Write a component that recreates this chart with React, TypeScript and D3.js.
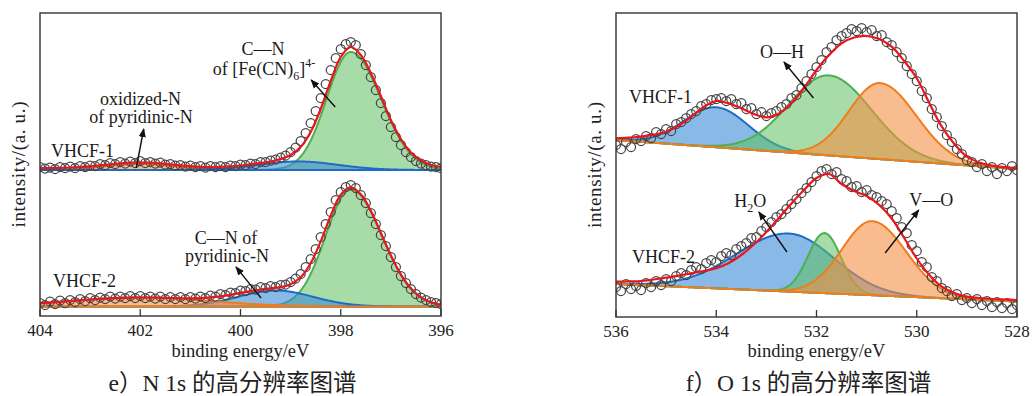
import React from "react";
import * as d3 from "d3";

// ================= N 1s (panel e) =================
const nAxisDomain = [404, 396];
const nTickValues = [404, 402, 400, 398, 396];
const nPointStart = 404;
const nPointStep = 0.1;
const nFitStep = 0.2;

// VHCF-1 measured points (404.0 -> 396.0 eV, 0.1 eV step)
const nVhcf1Points = [
  149, 147.5, 148.5, 147, 149, 148, 149.5, 148, 150, 149,
  150.5, 150, 152, 151, 153, 152, 154, 152.5, 154.5, 153,
  155, 153, 154, 152.5, 153.5, 151.5, 152, 150.5, 151, 149.5,
  150.5, 149, 150, 148.5, 150, 149, 150, 149, 150.5, 150,
  151.5, 151, 152.5, 152, 154, 154, 155.5, 156.5, 158.5, 160.5,
  164, 168.5, 175, 183, 193, 205, 218, 232, 246, 258,
  267, 272, 274, 271, 262, 251, 239, 226, 213, 200,
  189, 179, 171, 164, 159, 155, 152.5, 151, 149.5, 149,
  148,
];
// VHCF-1 fitted envelope (404.0 -> 396.0 eV, 0.2 eV step)
const nVhcf1Fit = [
  148, 148, 148.2, 148.5, 149, 149.7, 150.6, 151.7, 152.6, 153.3,
  153.5, 153.3, 152.6, 151.7, 150.6, 149.8, 149.2, 149, 149.1, 149.7,
  150.5, 151.8, 153, 154.3, 157, 161, 169, 184, 207, 235,
  259, 269, 261, 243, 220, 196, 177, 163.5, 155.5, 151,
  149,
];
const nVhcf1Background = [146, 146];
const nVhcf1Peaks = [
  { name: "Fe(CN)6 C—N", center: 397.8, height: 118, sigmaHigh: 0.48, sigmaLow: 0.6 },
  { name: "oxidized-N", center: 402.0, height: 6, sigmaHigh: 0.7, sigmaLow: 0.7 },
  { name: "pyridinic C—N", center: 398.85, height: 8.5, sigmaHigh: 0.8, sigmaLow: 0.8 },
];

// VHCF-2 measured points
const nVhcf2Points = [
  13, 11, 14.5, 12, 15.5, 13, 16, 14, 17, 15,
  18, 16, 18.5, 17, 19.5, 17.5, 19.5, 18, 20, 18,
  20, 18, 19.5, 17.5, 19.5, 17, 19, 17, 19, 17,
  19, 17.5, 19.5, 18, 20.5, 19.5, 22, 21, 23.5, 23,
  25.5, 25, 27, 26.5, 29, 28, 30, 29, 31, 31.5,
  34, 37.5, 42, 49, 57, 67, 79, 92, 104, 116,
  124, 129, 131, 128, 121, 113, 103, 92, 81, 70,
  59, 49, 40, 33, 27, 22, 18.5, 16, 14, 13,
  12,
];
const nVhcf2Fit = [
  12.8, 13.4, 14.2, 15, 15.7, 16.5, 17.1, 17.7, 18.1, 18.4,
  18.5, 18.5, 18.3, 18, 17.8, 17.7, 17.9, 18.6, 19.7, 21.2,
  23.1, 24.9, 26.5, 27.7, 28.9, 31.8, 38.7, 52.8, 74.6, 100.2,
  121.2, 128.7, 121.7, 105.2, 83, 60.6, 41.4, 27.5, 18.6, 13.7,
  11.2,
];
const nVhcf2Background = [9.5, 9.5];
const nVhcf2Peaks = [
  { name: "Fe(CN)6 C—N", center: 397.8, height: 117, sigmaHigh: 0.5, sigmaLow: 0.62 },
  { name: "pyridinic C—N", center: 399.3, height: 16, sigmaHigh: 0.75, sigmaLow: 0.75 },
  { name: "oxidized-N", center: 402.0, height: 9, sigmaHigh: 1.4, sigmaLow: 1.4 },
];

// ================= O 1s (panel f) =================
const oAxisDomain = [536, 528];
const oTickValues = [536, 534, 532, 530, 528];
const oPointStart = 536;
const oPointStep = 0.1;
const oFitStep = 0.25;

const oVhcf1Points = [
  172, 168, 175, 170, 178, 176, 181, 179, 185, 183,
  188, 186, 193, 195, 199, 203, 206, 211, 213, 217,
  218, 219, 216, 218, 213, 214, 208, 209, 203, 205,
  201, 204, 206, 210, 213, 219, 222, 229, 236, 243,
  250, 257, 265, 270, 277, 281, 284, 288, 286, 289,
  285, 287, 281, 282, 275, 272, 265, 259, 251, 243,
  236, 226, 219, 208, 200, 191, 182, 175, 168, 163,
  157, 155, 150, 153, 146, 150, 143, 149, 146, 151,
  147,
];
const oVhcf1Fit = [
  178.7, 179.3, 180.3, 182.3, 185.3, 191.5, 200.3, 210, 216, 213.5,
  208.7, 203, 199.7, 203.5, 213.7, 229, 247, 262, 273.7, 279.5,
  281, 278, 270.3, 256, 238.7, 214, 190.3, 173, 160.3, 154.5,
  151.3, 149.8, 148.7,
];
const oVhcf1Background = [177, 148];
const oVhcf1Peaks = [
  { name: "H2O", center: 534.0, height: 40, sigmaHigh: 0.64, sigmaLow: 0.64 },
  { name: "O—H", center: 531.75, height: 80, sigmaHigh: 0.8, sigmaLow: 0.85 },
  { name: "V—O", center: 530.73, height: 76, sigmaHigh: 0.62, sigmaLow: 0.72 },
];

const oVhcf2Points = [
  30, 26, 33, 28, 31, 27, 34, 30, 36, 32,
  38, 36, 41, 44, 42, 47, 50, 48, 54, 57,
  55, 61, 64, 62, 68, 71, 74, 79, 80, 86,
  90, 95, 100, 103, 108, 113, 118, 124, 129, 135,
  141, 146, 148, 143, 145, 138, 136, 130, 131, 125,
  127, 122, 120, 116, 113, 106, 99, 90, 84, 72,
  66, 55, 50, 40, 36, 29, 26, 21, 23, 17,
  19, 14, 18, 12, 16, 10, 15, 9, 14, 8,
  12,
];
const oVhcf2Fit = [
  35.3, 35.6, 36, 37.5, 39.3, 41.3, 43.7, 46, 48.7, 54,
  62, 72.5, 85, 99, 113.5, 127, 139, 143, 133, 126,
  121, 112, 98.5, 79, 58.5, 42, 30.3, 24, 20.3, 19,
  18, 17.5, 17,
];
const oVhcf2Background = [33, 15.5];
const oVhcf2Peaks = [
  { name: "H2O", center: 532.55, height: 58, sigmaHigh: 1.05, sigmaLow: 0.9 },
  { name: "O—H", center: 531.84, height: 60, sigmaHigh: 0.33, sigmaLow: 0.33 },
  { name: "V—O", center: 530.89, height: 74, sigmaHigh: 0.6, sigmaLow: 0.68 },
];

// annotations (in data coordinates: binding energy, intensity)
const nLabels = [
  { parts: [{ t: "C—N" }], e: 399.55, v: 261, anchor: "middle" },
  { parts: [{ t: "of [Fe(CN)" }, { t: "6", shift: "sub" }, { t: "]" }, { t: "4-", shift: "sup" }], e: 399.53, v: 241, anchor: "middle" },
  { parts: [{ t: "oxidized-N" }], e: 401.995, v: 211, anchor: "middle" },
  { parts: [{ t: "of pyridinic-N" }], e: 401.985, v: 193, anchor: "middle" },
  { parts: [{ t: "VHCF-1" }], e: 403.78, v: 159, anchor: "start" },
  { parts: [{ t: "VHCF-2" }], e: 403.74, v: 29, anchor: "start" },
  { parts: [{ t: "C—N of" }], e: 400.29, v: 72, anchor: "middle" },
  { parts: [{ t: "pyridinic-N" }], e: 400.27, v: 54, anchor: "middle" },
];
const nArrows = [
  { from: [398.11, 209], to: [398.59, 236] },
  { from: [402.08, 148], to: [401.93, 187] },
  { from: [399.59, 18], to: [400.09, 49] },
];
const oLabels = [
  { parts: [{ t: "O—H" }], e: 532.69, v: 259, anchor: "middle" },
  { parts: [{ t: "VHCF-1" }], e: 535.74, v: 214, anchor: "start" },
  { parts: [{ t: "H" }, { t: "2", shift: "sub" }, { t: "O" }], e: 533.32, v: 110, anchor: "middle" },
  { parts: [{ t: "V—O" }], e: 529.71, v: 111, anchor: "middle" },
  { parts: [{ t: "VHCF-2" }], e: 535.68, v: 54, anchor: "start" },
];
const oArrows = [
  { from: [532.06, 219], to: [532.65, 255] },
  { from: [532.59, 65], to: [533.15, 105] },
  { from: [530.63, 64], to: [529.96, 107] },
];

const xTitle = "binding energy/eV";
const yTitle = "intensity/(a. u.)";
const captionN = "e）N 1s 的高分辨率图谱";
const captionO = "f）O 1s 的高分辨率图谱";

// ================= styles =================
const componentStyle: Record<string, { stroke: string; fill: string; op: number }> = {
  "Fe(CN)6 C—N": { stroke: "#4db050", fill: "#5fbf62", op: 0.55 },
  "O—H": { stroke: "#4db050", fill: "#5fbf62", op: 0.55 },
  "pyridinic C—N": { stroke: "#1f6cc4", fill: "#3b8ad6", op: 0.6 },
  H2O: { stroke: "#1f6cc4", fill: "#3b8ad6", op: 0.6 },
  "oxidized-N": { stroke: "#f07d1c", fill: "#f39044", op: 0.6 },
  "V—O": { stroke: "#f07d1c", fill: "#f39044", op: 0.6 },
};
const SERIF = "'Liberation Serif', 'Times New Roman', 'Noto Sans CJK SC', serif";

type Peak = { name: string; center: number; height: number; sigmaHigh: number; sigmaLow: number };
type Spectrum = {
  points: number[];
  pointStart: number;
  pointStep: number;
  fit: number[];
  fitStep: number;
  background: number[];
  peaks: Peak[];
};

function peakValue(p: Peak, e: number) {
  const d = e - p.center;
  const s = d >= 0 ? p.sigmaHigh : p.sigmaLow;
  return p.height * Math.exp(-(d * d) / (2 * s * s));
}

function Panel(props: {
  id: string;
  box: { left: number; right: number; top: number; bottom: number };
  domain: number[];
  ticks: number[];
  spectra: Spectrum[];
  labels: any[];
  arrows: any[];
  caption: string;
  yTitleX: number;
}) {
  const { id, box, domain, ticks, spectra, labels, arrows, caption, yTitleX } = props;
  const x = d3.scaleLinear().domain(domain).range([box.left, box.right]);
  const y = d3.scaleLinear().domain([0, 300]).range([box.bottom, box.bottom - 300]);
  const grid = d3.range(domain[1] - 0.1, domain[0] + 0.1 + 1e-9, 0.02);
  const cx = (box.left + box.right) / 2;
  const cy = (box.top + box.bottom) / 2;

  return (
    <g>
      <defs>
        <clipPath id={id}>
          <rect x={box.left} y={box.top} width={box.right - box.left} height={box.bottom - box.top} />
        </clipPath>
      </defs>
      <g clipPath={`url(#${id})`}>
        {spectra.map((sp, si) => {
          const bg = d3.scaleLinear().domain(domain).range(sp.background);
          const fitLine = d3
            .line<number>()
            .x((_, i) => x(domain[0] - i * sp.fitStep))
            .y((v) => y(v))
            .curve(d3.curveCatmullRom.alpha(0.5));
          return (
            <g key={si}>
              {sp.peaks.map((p, pi) => {
                const st = componentStyle[p.name];
                const area = d3
                  .area<number>()
                  .x((e) => x(e))
                  .y0((e) => y(bg(e)))
                  .y1((e) => y(bg(e) + peakValue(p, e)));
                return (
                  <path
                    key={pi}
                    d={area(grid) || ""}
                    fill={st.fill}
                    fillOpacity={st.op}
                    stroke={st.stroke}
                    strokeWidth={2}
                    strokeLinejoin="round"
                  />
                );
              })}
              {sp.points.map((v, i) => (
                <circle
                  key={i}
                  cx={x(sp.pointStart - i * sp.pointStep)}
                  cy={y(v)}
                  r={4.5}
                  fill="none"
                  stroke="#454545"
                  strokeWidth={1.25}
                />
              ))}
              <path d={fitLine(sp.fit) || ""} fill="none" stroke="#e8161e" strokeWidth={2.2} />
            </g>
          );
        })}
      </g>
      <rect
        x={box.left}
        y={box.top}
        width={box.right - box.left}
        height={box.bottom - box.top}
        fill="none"
        stroke="#333"
        strokeWidth={1.4}
      />
      {ticks.map((t) => (
        <g key={t}>
          <line x1={x(t)} x2={x(t)} y1={box.bottom} y2={box.bottom - 7} stroke="#333" strokeWidth={1.3} />
          <text x={x(t)} y={box.bottom + 20} textAnchor="middle" fontSize={17} fontFamily={SERIF} fill="#222">
            {t}
          </text>
        </g>
      ))}
      <text x={cx} y={357} textAnchor="middle" fontSize={18.5} fontFamily={SERIF} fill="#222">
        {xTitle}
      </text>
      <text
        transform={`translate(${yTitleX},${cy}) rotate(-90)`}
        textAnchor="middle"
        fontSize={19}
        fontFamily={SERIF}
        fill="#222"
        textLength={126}
        lengthAdjust="spacing"
      >
        {yTitle}
      </text>
      <text x={cx - 8} y={391} textAnchor="middle" fontSize={23.5} fontFamily={SERIF} fill="#222">
        {caption}
      </text>
      {labels.map((lb, i) => (
        <text
          key={i}
          x={x(lb.e)}
          y={y(lb.v)}
          textAnchor={lb.anchor}
          fontSize={18}
          fontFamily={SERIF}
          fill="#1a1a1a"
        >
          {lb.parts.map((p: any, j: number) => {
            const prev = j > 0 ? lb.parts[j - 1].shift : undefined;
            let dy = 0;
            if (prev === "sub") dy -= 5;
            if (prev === "sup") dy += 8;
            if (p.shift === "sub") dy += 5;
            if (p.shift === "sup") dy -= 8;
            return (
              <tspan key={j} dy={dy} fontSize={p.shift ? 12 : 18}>
                {p.t}
              </tspan>
            );
          })}
        </text>
      ))}
      {arrows.map((a, i) => (
        <line
          key={i}
          x1={x(a.from[0])}
          y1={y(a.from[1])}
          x2={x(a.to[0])}
          y2={y(a.to[1])}
          stroke="#111"
          strokeWidth={1.4}
          markerEnd="url(#arrowHead)"
        />
      ))}
    </g>
  );
}

export default function App() {
  const nSpectra: Spectrum[] = [
    { points: nVhcf1Points, pointStart: nPointStart, pointStep: nPointStep, fit: nVhcf1Fit, fitStep: nFitStep, background: nVhcf1Background, peaks: nVhcf1Peaks },
    { points: nVhcf2Points, pointStart: nPointStart, pointStep: nPointStep, fit: nVhcf2Fit, fitStep: nFitStep, background: nVhcf2Background, peaks: nVhcf2Peaks },
  ];
  const oSpectra: Spectrum[] = [
    { points: oVhcf1Points, pointStart: oPointStart, pointStep: oPointStep, fit: oVhcf1Fit, fitStep: oFitStep, background: oVhcf1Background, peaks: oVhcf1Peaks },
    { points: oVhcf2Points, pointStart: oPointStart, pointStep: oPointStep, fit: oVhcf2Fit, fitStep: oFitStep, background: oVhcf2Background, peaks: oVhcf2Peaks },
  ];
  return (
    <svg
      width={1034}
      height={396}
      viewBox="0 0 1034 396"
      style={{ position: "absolute", left: 0, top: 0, background: "#fff" }}
    >
      <defs>
        <marker
          id="arrowHead"
          viewBox="0 0 10 10"
          refX={9}
          refY={5}
          markerWidth={9}
          markerHeight={9}
          markerUnits="userSpaceOnUse"
          orient="auto"
        >
          <path d="M0,1 L10,5 L0,9 z" fill="#111" />
        </marker>
      </defs>
      <rect x={0} y={0} width={1034} height={396} fill="#fff" />
      <Panel
        id="clipN"
        box={{ left: 40, right: 441, top: 13, bottom: 316 }}
        domain={nAxisDomain}
        ticks={nTickValues}
        spectra={nSpectra}
        labels={nLabels}
        arrows={nArrows}
        caption={captionN}
        yTitleX={24.5}
      />
      <Panel
        id="clipO"
        box={{ left: 616, right: 1017, top: 13, bottom: 317 }}
        domain={oAxisDomain}
        ticks={oTickValues}
        spectra={oSpectra}
        labels={oLabels}
        arrows={oArrows}
        caption={captionO}
        yTitleX={601}
      />
    </svg>
  );
}
